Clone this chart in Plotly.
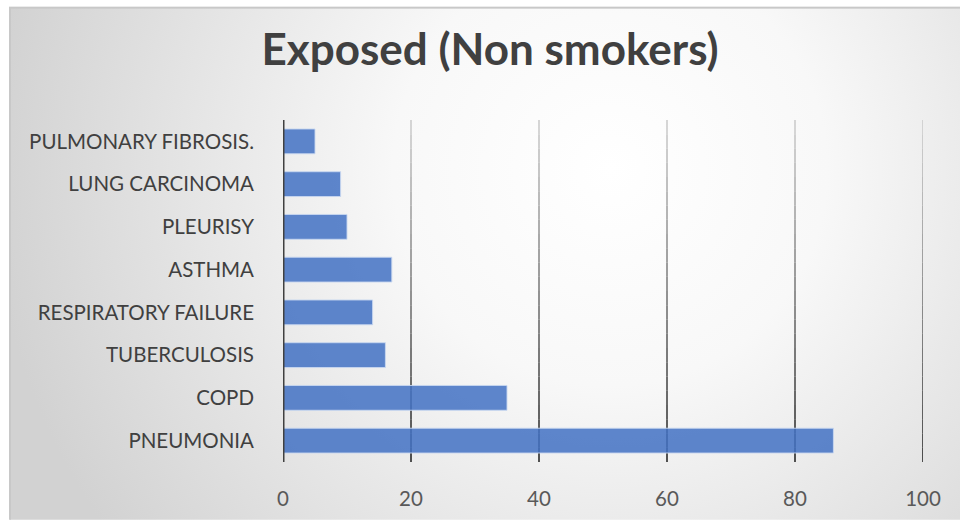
import base64
import plotly.graph_objects as go

categories = ["PNEUMONIA", "COPD", "TUBERCULOSIS", "RESPIRATORY FAILURE",
              "ASTHMA", "PLEURISY", "LUNG CARCINOMA", "PULMONARY FIBROSIS."]
values = [86, 35, 16, 14, 17, 10, 9, 5]
x_ticks = [0, 20, 40, 60, 80, 100]
title_text = "Exposed (Non smokers)"

W, H = 960, 522
L, R, T, B = 283, 37, 120, 58
PW, PH = W - L - R, H - T - B

fig = go.Figure()
fig.add_trace(go.Bar(
    y=categories, x=values, orientation="h",
    marker=dict(color="rgba(68,114,196,0.86)",
                line=dict(color="rgba(200,215,240,0.9)", width=1)),
    width=0.58, hoverinfo="x+y",
))

# radial gradient background
svg = f'''<svg xmlns="http://www.w3.org/2000/svg" width="{W}" height="{H}" viewBox="0 0 {W} {H}" preserveAspectRatio="none">
<defs><radialGradient id="g" gradientUnits="userSpaceOnUse" cx="610" cy="170" r="620">
<stop offset="0" stop-color="#ffffff"/><stop offset="0.35" stop-color="#f8f8f8"/><stop offset="1" stop-color="#d2d2d2"/></radialGradient></defs>
<rect x="0" y="0" width="{W}" height="{H}" fill="#ffffff"/>
<rect x="10" y="7" width="{W+20}" height="{H+20}" fill="url(#g)" stroke="#c8c8c8" stroke-width="2"/>
</svg>'''
src = "data:image/svg+xml;base64," + base64.b64encode(svg.encode()).decode()
fig.add_layout_image(dict(source=src, xref="paper", yref="paper",
                          x=-L / PW, y=1 + T / PH, sizex=W / PW, sizey=H / PH,
                          xanchor="left", yanchor="top", sizing="stretch",
                          layer="below"))

# gridlines with vertical color gradient
def mix(t):
    a, b = (205, 205, 205), (25, 25, 25)
    c = [round(a[i] + (b[i] - a[i]) * t) for i in range(3)]
    return f"rgb({c[0]},{c[1]},{c[2]})"

N = 24
for xv in x_ticks[1:]:
    for k in range(N):
        y0 = 1 - k / N
        y1 = 1 - (k + 1) / N
        fig.add_shape(type="line", xref="x", yref="paper", x0=xv, x1=xv,
                      y0=y0, y1=y1, line=dict(color=mix((k + 0.5) / N), width=1.5),
                      layer="below")

FONT = "Lato, Open Sans, sans-serif"
fig.update_layout(
    width=W, height=H,
    margin=dict(l=L, r=R, t=T, b=B),
    paper_bgcolor="white", plot_bgcolor="rgba(0,0,0,0)",
    title=dict(text=f"<b>{title_text}</b>", x=490 / W, xanchor="center",
               y=1 - 50 / H, yanchor="middle",
               font=dict(family=FONT, size=44, color="#404040")),
    showlegend=False,
    xaxis=dict(range=[0, 100], tickvals=x_ticks, showgrid=False,
               zeroline=False, showline=False, ticks="",
               ticklabelstandoff=22,
               tickfont=dict(family=FONT, size=20.5, color="#595959"),
               fixedrange=True),
    yaxis=dict(categoryorder="array", categoryarray=categories,
               showgrid=False, zeroline=False, ticks="",
               showline=False, ticklabelstandoff=28,
               tickfont=dict(family=FONT, size=20.5, color="#404040"),
               fixedrange=True),
)
# axis line at zero
fig.add_shape(type="line", xref="x", yref="paper", x0=x_ticks[0], x1=x_ticks[0],
              y0=0, y1=1, line=dict(color="#404040", width=3), layer="above")

fig.write_html("out.html", config={"displayModeBar": False},
               post_script="document.body.style.margin='0';document.body.style.padding='0';")
